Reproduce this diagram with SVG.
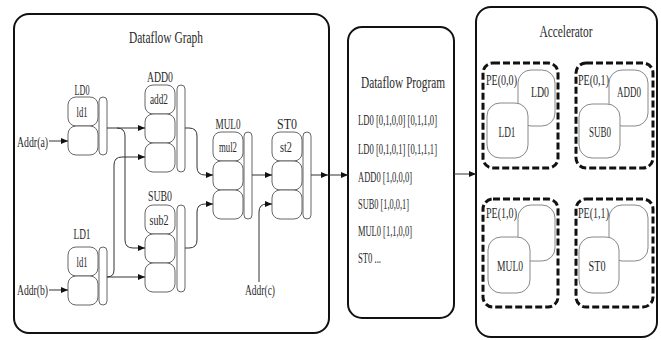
<svg xmlns="http://www.w3.org/2000/svg" width="661" height="340" viewBox="0 0 661 340">
<style>
text{font-family:"Liberation Serif","DejaVu Serif",serif;fill:#2a2a2a;}
.t{font-size:17px}
.l{font-size:15px}
.s{font-size:14px}
.m{text-anchor:middle}
.panel{fill:#fff;stroke:#111;stroke-width:2}
.box{fill:#fff;stroke:#666;stroke-width:1}
.pe{fill:none;stroke:#111;stroke-width:3;stroke-dasharray:7 3}
.in{fill:#fff;stroke:#888;stroke-width:1}
.c{fill:none;stroke:#333;stroke-width:1}
</style>
<defs>
<marker id="ah" markerUnits="userSpaceOnUse" markerWidth="7" markerHeight="6" refX="7" refY="3" orient="auto"><path d="M0,0 L7,3 L0,6 z" fill="#111"/></marker>
</defs>
<rect width="661" height="340" fill="#fff"/>

<g id="dataflow-graph">
<rect class="panel" x="14" y="14" width="315" height="319" rx="15"/>
<text class="t m" x="166" y="43" textLength="74" lengthAdjust="spacingAndGlyphs">Dataflow Graph</text>
</g>

<g id="LD0">
<text class="l m" x="82" y="95" textLength="15" lengthAdjust="spacingAndGlyphs">LD0</text>
<rect class="box" x="68" y="97" width="30" height="29" rx="8"/>
<rect class="box" x="68" y="126" width="30" height="29" rx="8"/>
<rect class="box" x="99" y="97" width="8" height="58" rx="4"/>
<text class="s m" x="82" y="117" textLength="11" lengthAdjust="spacingAndGlyphs">ld1</text>
</g>

<g id="LD1">
<text class="l m" x="82" y="239" textLength="17" lengthAdjust="spacingAndGlyphs">LD1</text>
<rect class="box" x="68" y="247" width="30" height="29" rx="8"/>
<rect class="box" x="68" y="276" width="30" height="29" rx="8"/>
<rect class="box" x="99" y="247" width="8" height="58" rx="4"/>
<text class="s m" x="82" y="267" textLength="11" lengthAdjust="spacingAndGlyphs">ld1</text>
</g>

<g id="ADD0">
<text class="l m" x="160" y="82" textLength="26" lengthAdjust="spacingAndGlyphs">ADD0</text>
<rect class="box" x="145" y="85" width="30" height="29" rx="8"/>
<rect class="box" x="145" y="114" width="30" height="29" rx="8"/>
<rect class="box" x="145" y="143" width="30" height="29" rx="8"/>
<rect class="box" x="177" y="85" width="8" height="87" rx="4"/>
<text class="s m" x="159" y="104" textLength="18" lengthAdjust="spacingAndGlyphs">add2</text>
</g>

<g id="SUB0">
<text class="l m" x="160" y="201" textLength="24" lengthAdjust="spacingAndGlyphs">SUB0</text>
<rect class="box" x="145" y="205" width="30" height="29" rx="8"/>
<rect class="box" x="145" y="234" width="30" height="29" rx="8"/>
<rect class="box" x="145" y="263" width="30" height="29" rx="8"/>
<rect class="box" x="177" y="205" width="8" height="87" rx="4"/>
<text class="s m" x="159" y="225" textLength="19" lengthAdjust="spacingAndGlyphs">sub2</text>
</g>

<g id="MUL0">
<text class="l m" x="228" y="129" textLength="25" lengthAdjust="spacingAndGlyphs">MUL0</text>
<rect class="box" x="213" y="132" width="30" height="29" rx="8"/>
<rect class="box" x="213" y="161" width="30" height="29" rx="8"/>
<rect class="box" x="213" y="190" width="30" height="29" rx="8"/>
<rect class="box" x="244" y="132" width="8" height="87" rx="4"/>
<text class="s m" x="228" y="152" textLength="18" lengthAdjust="spacingAndGlyphs">mul2</text>
</g>

<g id="ST0">
<text class="l m" x="287" y="129" textLength="20" lengthAdjust="spacingAndGlyphs">ST0</text>
<rect class="box" x="272" y="132" width="30" height="29" rx="8"/>
<rect class="box" x="272" y="161" width="30" height="29" rx="8"/>
<rect class="box" x="272" y="190" width="30" height="29" rx="8"/>
<rect class="box" x="303" y="132" width="8" height="87" rx="4"/>
<text class="s m" x="286" y="152" textLength="12" lengthAdjust="spacingAndGlyphs">st2</text>
</g>

<g id="addr-labels">
<text class="s" x="17" y="147" textLength="31" lengthAdjust="spacingAndGlyphs">Addr(a)</text>
<text class="s" x="17" y="295" textLength="31" lengthAdjust="spacingAndGlyphs">Addr(b)</text>
<text class="s m" x="260" y="295" textLength="30" lengthAdjust="spacingAndGlyphs">Addr(c)</text>
</g>

<g id="dataflow-program">
<rect class="panel" x="348" y="27" width="106" height="291" rx="14"/>
<text class="t m" x="403" y="88" textLength="84" lengthAdjust="spacingAndGlyphs">Dataflow Program</text>
<text class="s" x="358" y="125" textLength="79" lengthAdjust="spacingAndGlyphs">LD0 [0,1,0,0] [0,1,1,0]</text>
<text class="s" x="358" y="154" textLength="79" lengthAdjust="spacingAndGlyphs">LD0 [0,1,0,1] [0,1,1,1]</text>
<text class="s" x="358" y="182" textLength="54" lengthAdjust="spacingAndGlyphs">ADD0 [1,0,0,0]</text>
<text class="s" x="358" y="209" textLength="51" lengthAdjust="spacingAndGlyphs">SUB0 [1,0,0,1]</text>
<text class="s" x="358" y="236" textLength="54" lengthAdjust="spacingAndGlyphs">MUL0 [1,1,0,0]</text>
<text class="s" x="358" y="263" textLength="23" lengthAdjust="spacingAndGlyphs">ST0 ...</text>
</g>

<g id="accelerator">
<rect class="panel" x="476" y="7" width="181" height="330" rx="15"/>
<text class="t m" x="566" y="37" textLength="53" lengthAdjust="spacingAndGlyphs">Accelerator</text>
</g>

<g id="PE00">
<rect class="pe" x="483" y="63" width="75" height="105" rx="10"/>
<text class="s" x="486" y="85" textLength="31" lengthAdjust="spacingAndGlyphs">PE(0,0)</text>
<rect class="in" x="518" y="70" width="37" height="56" rx="13"/>
<rect class="in" x="487" y="103" width="41" height="55" rx="13"/>
<text class="s m" x="540" y="97" textLength="18" lengthAdjust="spacingAndGlyphs">LD0</text>
<text class="s m" x="507" y="137" textLength="17" lengthAdjust="spacingAndGlyphs">LD1</text>
</g>

<g id="PE01">
<rect class="pe" x="576" y="63" width="77" height="105" rx="10"/>
<text class="s" x="578" y="85" textLength="31" lengthAdjust="spacingAndGlyphs">PE(0,1)</text>
<rect class="in" x="609" y="70" width="39" height="56" rx="13"/>
<rect class="in" x="579" y="104" width="41" height="54" rx="13"/>
<text class="s m" x="629" y="97" textLength="24" lengthAdjust="spacingAndGlyphs">ADD0</text>
<text class="s m" x="600" y="137" textLength="22" lengthAdjust="spacingAndGlyphs">SUB0</text>
</g>

<g id="PE10">
<rect class="pe" x="483" y="199" width="75" height="108" rx="10"/>
<text class="s" x="486" y="218" textLength="31" lengthAdjust="spacingAndGlyphs">PE(1,0)</text>
<rect class="in" x="518" y="205" width="37" height="56" rx="13"/>
<rect class="in" x="488" y="237" width="42" height="56" rx="13"/>
<text class="s m" x="510" y="271" textLength="26" lengthAdjust="spacingAndGlyphs">MUL0</text>
</g>

<g id="PE11">
<rect class="pe" x="576" y="199" width="77" height="108" rx="10"/>
<text class="s" x="578" y="218" textLength="31" lengthAdjust="spacingAndGlyphs">PE(1,1)</text>
<rect class="in" x="609" y="205" width="39" height="56" rx="13"/>
<rect class="in" x="579" y="237" width="40" height="56" rx="13"/>
<text class="s m" x="597" y="271" textLength="17" lengthAdjust="spacingAndGlyphs">ST0</text>
</g>

<g id="connectors">
<path class="c" d="M49,141 H68" marker-end="url(#ah)"/>
<path class="c" d="M49,290 H68" marker-end="url(#ah)"/>
<path class="c" d="M107,128 H145" marker-end="url(#ah)"/>
<path class="c" d="M117,128 Q125,128 125,136 V240 Q125,248 133,248 H145" marker-end="url(#ah)"/>
<path class="c" d="M107,277 H145" marker-end="url(#ah)"/>
<path class="c" d="M107,277 Q114,277 114,270 V165 Q114,157 122,157 H145" marker-end="url(#ah)"/>
<path class="c" d="M185,128 H189 Q197,128 197,136 V167 Q197,175 205,175 H213" marker-end="url(#ah)"/>
<path class="c" d="M185,248 H189 Q197,248 197,240 V212 Q197,204 205,204 H213" marker-end="url(#ah)"/>
<path class="c" d="M252,175 H272" marker-end="url(#ah)"/>
<path class="c" d="M259,282 V212 Q259,204 267,204 H272" marker-end="url(#ah)"/>
<path class="c" d="M311,175 H328" marker-end="url(#ah)"/>
<path class="c" d="M329,175 H348" marker-end="url(#ah)"/>
<path class="c" d="M454,174 H476" marker-end="url(#ah)"/>
</g>
</svg>
